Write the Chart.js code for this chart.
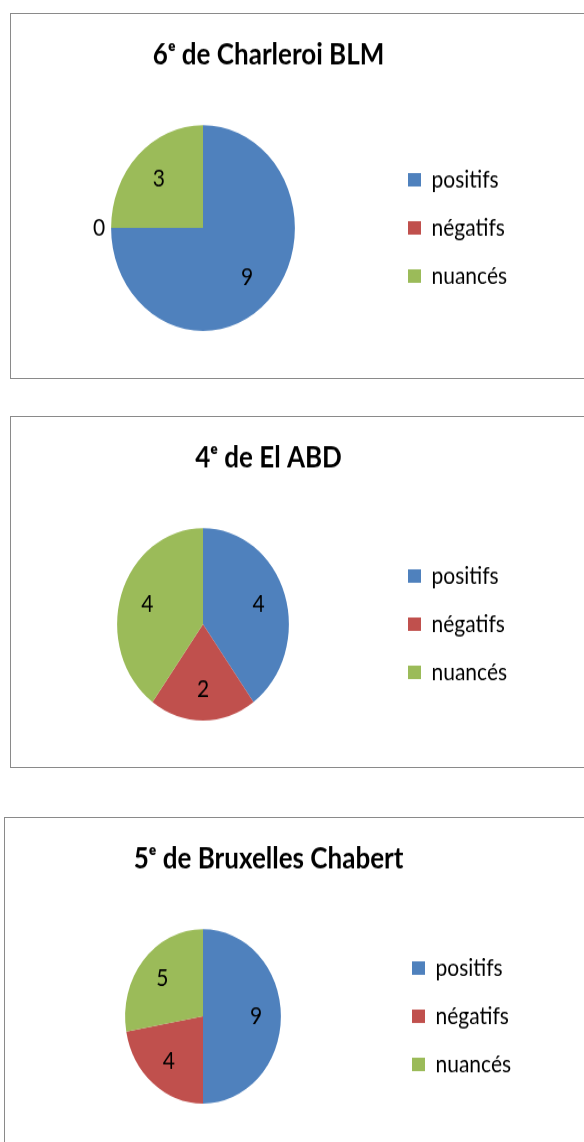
<!DOCTYPE html>
<html>
<head>
<meta charset="utf-8">
<script src="https://cdn.jsdelivr.net/npm/chart.js@4/dist/chart.umd.min.js"></script>
<style>
  html, body { margin: 0; padding: 0; background: #fff; }
  body { width: 584px; height: 1142px; overflow: hidden; position: relative; }
  .box { position: absolute; border: 1px solid #8a8a8a; box-sizing: border-box; overflow: hidden; }
  .box canvas { position: absolute; left: 0; top: 0; transform-origin: 0 0; transform: scaleY(1.12); }
</style>
</head>
<body>
<div class="box" id="box1" style="left:10px; top:13px; width:600px; height:366px;"><canvas id="c1" width="590" height="326"></canvas></div>
<div class="box" id="box2" style="left:10px; top:416px; width:600px; height:352px;"><canvas id="c2" width="590" height="313"></canvas></div>
<div class="box" id="box3" style="left:4px; top:817px; width:600px; height:345px;"><canvas id="c3" width="590" height="300"></canvas></div>
<script>
// données
const categories = ['positifs', 'négatifs', 'nuancés'];
const titles = ['6ᵉ de Charleroi BLM', '4ᵉ de El ABD', '5ᵉ de Bruxelles Chabert'];
const charleroiValues = [9, 0, 3];
const elAbdValues = [4, 2, 4];
const chabertValues = [9, 4, 5];
const sliceColors = ['#4F81BD', '#C0504D', '#9BBB59'];

const FONT = "Lato, 'Open Sans', 'DejaVu Sans', sans-serif";

// étiquettes de valeurs sur les parts
const sliceLabels = {
    id: 'sliceLabels',
    afterDatasetsDraw(chart) {
        const ctx = chart.ctx;
        const meta = chart.getDatasetMeta(0);
        const values = chart.data.datasets[0].data;
        ctx.save();
        ctx.font = '21px ' + FONT;
        ctx.fillStyle = '#000';
        ctx.textAlign = 'center';
        ctx.textBaseline = 'middle';
        meta.data.forEach((arc, i) => {
            const p = arc.getProps(['x', 'y', 'startAngle', 'endAngle', 'outerRadius'], true);
            const mid = (p.startAngle + p.endAngle) / 2;
            const dist = values[i] === 0 ? p.outerRadius + 12 : p.outerRadius * 0.68;
            ctx.fillText(String(values[i]), p.x + Math.cos(mid) * dist, p.y + Math.sin(mid) * dist);
        });
        ctx.restore();
    }
};

function makePie(canvasId, title, values, padLeft, padBottom, legendLeft) {
    const chart = new Chart(document.getElementById(canvasId), {
        type: 'pie',
        data: {
            labels: categories,
            datasets: [{
                data: values,
                backgroundColor: sliceColors,
                borderWidth: 0
            }]
        },
        options: {
            responsive: false,
            animation: false,
            layout: { padding: { left: padLeft, right: 0, top: 0, bottom: padBottom } },
            plugins: {
                title: {
                    display: true,
                    text: title,
                    color: '#000',
                    font: { family: FONT, size: 26, weight: 'bold' },
                    padding: { top: 21, bottom: 47 }
                },
                legend: {
                    position: 'right',
                    fullSize: false,
                    labels: {
                        color: '#000',
                        font: { family: FONT, size: 21 },
                        boxWidth: 13,
                        boxHeight: 12,
                        padding: 22
                    }
                },
                tooltip: { enabled: false }
            }
        },
        plugins: [sliceLabels]
    });
    // caler la légende à sa place
    chart.options.layout.padding.right += chart.legend.left - legendLeft;
    chart.update('none');
    return chart;
}

makePie('c1', titles[0], charleroiValues, 9, 43, 375);
makePie('c2', titles[1], elAbdValues, 9, 42, 375);
makePie('c3', titles[2], chabertValues, 11, 45, 385);
</script>
</body>
</html>
